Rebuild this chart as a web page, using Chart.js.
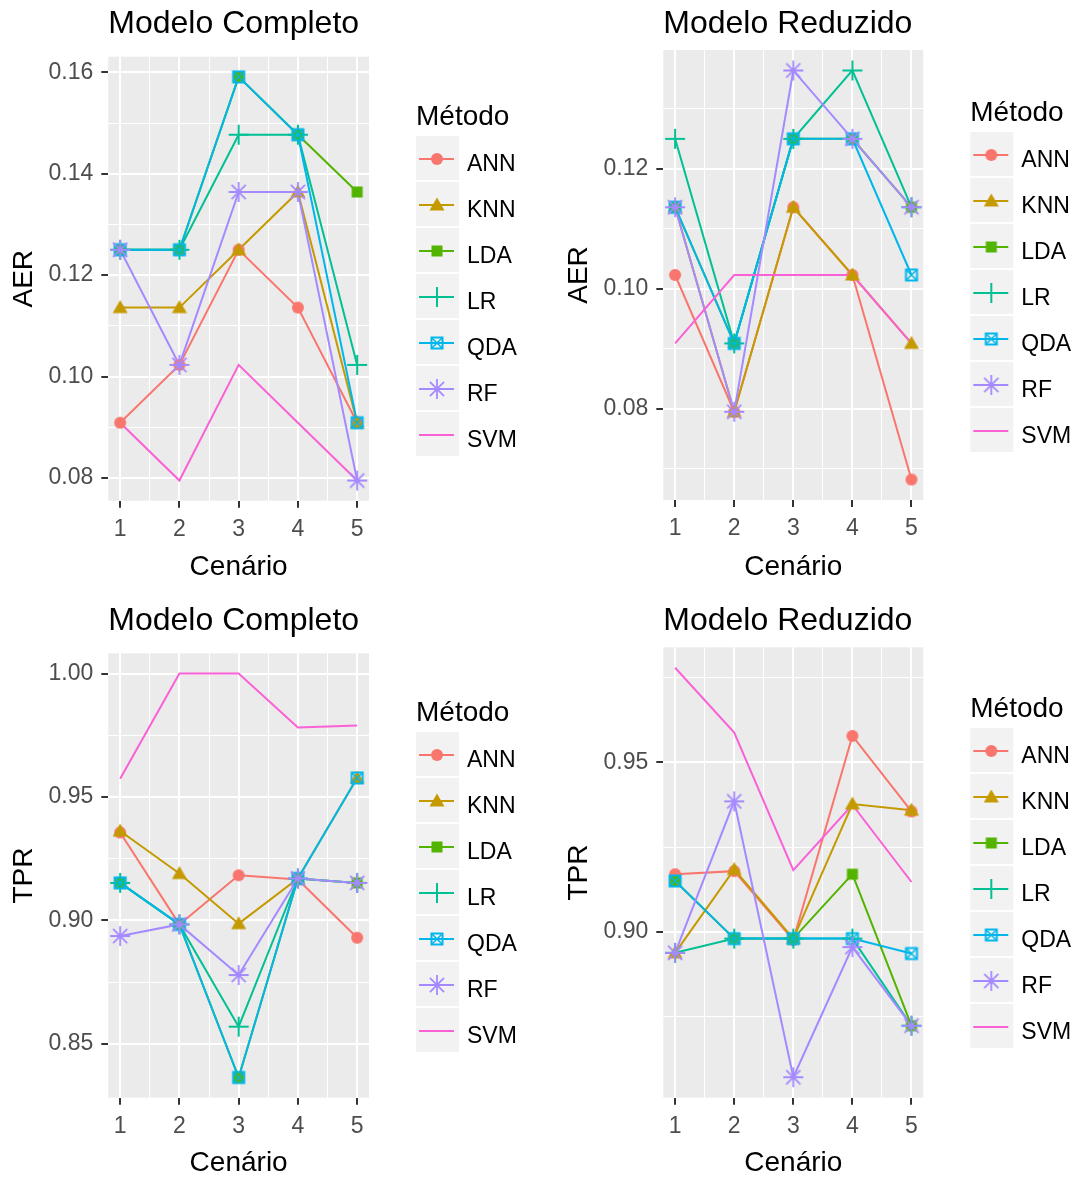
<!DOCTYPE html>
<html>
<head>
<meta charset="utf-8">
<script src="https://cdn.jsdelivr.net/npm/chart.js@4.4.1/dist/chart.umd.min.js"></script>
<style>
html, body { margin: 0; padding: 0; background: #ffffff; }
#wrap { position: relative; width: 1082px; height: 1177px; overflow: hidden; background: #ffffff; }
.cell { position: absolute; width: 541px; height: 590px; }
.cell canvas { display: block; }
</style>
</head>
<body>
<div id="wrap">
  <div class="cell" style="left:0px;top:0px"><canvas id="c1" width="541" height="590"></canvas></div>
  <div class="cell" style="left:541px;top:0px"><canvas id="c2" width="541" height="590"></canvas></div>
  <div class="cell" style="left:0px;top:590px"><canvas id="c3" width="541" height="590"></canvas></div>
  <div class="cell" style="left:541px;top:590px"><canvas id="c4" width="541" height="590"></canvas></div>
</div>
<script>
// ---------------- DATA ----------------
const scenarios = [1, 2, 3, 4, 5];
const methods = ['ANN', 'KNN', 'LDA', 'LR', 'QDA', 'RF', 'SVM'];
const methodColors = ['#F8766D', '#C49A00', '#53B400', '#00C094', '#00B6EB', '#A58AFF', '#FB61D7'];
const methodShapes = ['circle', 'triangle', 'square', 'plus', 'sqcross', 'asterisk', null];
const legendTitle = 'Método';
const xTitle = 'Cenário';

// rows follow `methods`, columns follow `scenarios`
const aerCompleto = [
  [0.0909, 0.1023, 0.1250, 0.1136, 0.0909], // ANN
  [0.1136, 0.1136, 0.1250, 0.1364, 0.0909], // KNN
  [0.1250, 0.1250, 0.1591, 0.1477, 0.1364], // LDA
  [0.1250, 0.1250, 0.1477, 0.1477, 0.1023], // LR
  [0.1250, 0.1250, 0.1591, 0.1477, 0.0909], // QDA
  [0.1250, 0.1023, 0.1364, 0.1364, 0.0795], // RF
  [0.0909, 0.0795, 0.1023, 0.0909, 0.0795]  // SVM
];
const aerReduzido = [
  [0.1023, 0.0795, 0.1136, 0.1023, 0.0682],
  [0.1136, 0.0795, 0.1136, 0.1023, 0.0909],
  [0.1136, 0.0909, 0.1250, 0.1250, 0.1136],
  [0.1250, 0.0909, 0.1250, 0.1364, 0.1136],
  [0.1136, 0.0909, 0.1250, 0.1250, 0.1023],
  [0.1136, 0.0795, 0.1364, 0.1250, 0.1136],
  [0.0909, 0.1023, 0.1023, 0.1023, 0.0909]
];
const tprCompleto = [
  [0.9356, 0.8984, 0.9183, 0.9166, 0.8930],
  [0.9362, 0.9190, 0.8987, 0.9170, 0.9577],
  [0.9152, 0.8984, 0.8364, 0.9170, 0.9152],
  [0.9152, 0.8984, 0.8570, 0.9170, 0.9152],
  [0.9152, 0.8984, 0.8364, 0.9170, 0.9577],
  [0.8937, 0.8984, 0.8779, 0.9170, 0.9152],
  [0.9574, 1.0000, 1.0000, 0.9781, 0.9789]
];
const tprReduzido = [
  [0.9170, 0.9179, 0.8976, 0.9578, 0.9355],
  [0.8938, 0.9184, 0.8980, 0.9377, 0.9359],
  [0.9150, 0.8980, 0.8980, 0.9170, 0.8723],
  [0.8938, 0.8980, 0.8980, 0.8980, 0.8723],
  [0.9150, 0.8980, 0.8980, 0.8980, 0.8936],
  [0.8938, 0.9385, 0.8571, 0.8955, 0.8723],
  [0.9779, 0.9588, 0.9182, 0.9375, 0.9147]
];

const aerCompletoTicks = [0.08, 0.10, 0.12, 0.14, 0.16];
const aerReduzidoTicks = [0.08, 0.10, 0.12];
const tprCompletoTicks = [0.85, 0.90, 0.95, 1.00];
const tprReduzidoTicks = [0.90, 0.95];

// ---------------- STYLE / HELPERS ----------------
const FONT = '"Liberation Sans", Arial, Helvetica, sans-serif';
Chart.defaults.font.family = FONT;

function makeMarker(kind, color) {
  if (!kind) return null;
  const c = document.createElement('canvas');
  c.width = 24; c.height = 24;
  const g = c.getContext('2d');
  g.translate(12, 12);
  g.fillStyle = color; g.strokeStyle = color; g.lineWidth = 2;
  if (kind === 'circle') { g.beginPath(); g.arc(0, 0, 6, 0, Math.PI * 2); g.fill(); }
  else if (kind === 'triangle') { g.beginPath(); g.moveTo(0, -7.5); g.lineTo(7.5, 5.5); g.lineTo(-7.5, 5.5); g.closePath(); g.fill(); }
  else if (kind === 'square') { g.fillRect(-5.5, -5.5, 11, 11); }
  else if (kind === 'plus') { g.beginPath(); g.moveTo(-10, 0); g.lineTo(10, 0); g.moveTo(0, -10); g.lineTo(0, 10); g.stroke(); }
  else if (kind === 'sqcross') {
    g.strokeRect(-5.5, -5.5, 11, 11);
    g.lineWidth = 1.5; g.beginPath();
    g.moveTo(-5.5, -5.5); g.lineTo(5.5, 5.5); g.moveTo(5.5, -5.5); g.lineTo(-5.5, 5.5); g.stroke();
  } else if (kind === 'asterisk') {
    g.lineWidth = 1.8; g.beginPath();
    for (let k = 0; k < 4; k++) {
      const a = k * Math.PI / 4;
      g.moveTo(-10 * Math.cos(a), -10 * Math.sin(a)); g.lineTo(10 * Math.cos(a), 10 * Math.sin(a));
    }
    g.stroke();
  }
  return c;
}
const markers = methodShapes.map((s, i) => makeMarker(s, methodColors[i]));

const near = (v, arr) => arr.some(a => Math.abs(a - v) < 1e-6);

const panelBg = {
  id: 'panelBg',
  beforeDraw(chart) {
    const { ctx, chartArea: a } = chart;
    ctx.save(); ctx.fillStyle = '#EBEBEB';
    ctx.fillRect(a.left, a.top, a.right - a.left, a.bottom - a.top);
    ctx.restore();
  }
};
const panelTitle = {
  id: 'panelTitle',
  afterDraw(chart, args, opts) {
    const ctx = chart.ctx;
    ctx.save();
    ctx.font = '32px ' + FONT; ctx.fillStyle = '#000000';
    ctx.textAlign = 'left'; ctx.textBaseline = 'alphabetic';
    ctx.fillText(opts.text, chart.chartArea.left, opts.baseline);
    ctx.restore();
  }
};
const ggLegend = {
  id: 'ggLegend',
  afterDraw(chart, args, opts) {
    const ctx = chart.ctx;
    const lx = chart.chartArea.right + 47;
    const ty = opts.top;
    ctx.save();
    ctx.textAlign = 'left'; ctx.textBaseline = 'alphabetic';
    ctx.font = '28px ' + FONT; ctx.fillStyle = '#000000';
    ctx.fillText(legendTitle, lx, ty);
    methods.forEach((m, k) => {
      const by = ty + 11 + 46 * k;
      ctx.fillStyle = '#F2F2F2'; ctx.fillRect(lx, by, 43, 44);
      const cy = by + 23;
      ctx.strokeStyle = methodColors[k]; ctx.lineWidth = 2;
      ctx.beginPath(); ctx.moveTo(lx + 3, cy); ctx.lineTo(lx + 38, cy); ctx.stroke();
      if (markers[k]) ctx.drawImage(markers[k], lx + 21 - 12, cy - 12);
      ctx.fillStyle = '#000000'; ctx.font = '23px ' + FONT;
      ctx.fillText(m, lx + 51, by + 35);
    });
    ctx.restore();
  }
};

function makePanel(id, p) {
  const all = p.values.flat();
  const lo = Math.min(...all), hi = Math.max(...all);
  const ex = (hi - lo) * 0.05;
  const ymin = lo - ex, ymax = hi + ex;
  const step = p.majors[1] - p.majors[0];
  const yMinors = [];
  for (let v = p.majors[0] - step / 2; v <= p.majors[p.majors.length - 1] + step / 2 + 1e-9; v += step) {
    if (v >= ymin && v <= ymax) yMinors.push(+v.toFixed(4));
  }
  const yAll = p.majors.concat(yMinors).sort((a, b) => a - b);
  const xMinors = scenarios.slice(0, -1).map(s => s + 0.5);
  const xAll = scenarios.concat(xMinors).sort((a, b) => a - b);
  const xex = (scenarios[scenarios.length - 1] - scenarios[0]) * 0.05;

  const datasets = [];
  methods.forEach((m, i) => {
    const pts = scenarios.map((s, j) => ({ x: s, y: p.values[i][j] }));
    datasets.push({
      label: m, data: pts, borderColor: methodColors[i], backgroundColor: methodColors[i],
      borderWidth: 2, pointRadius: 0, fill: false, tension: 0, order: 100 - i
    });
    if (markers[i]) {
      datasets.push({
        label: m + ' pts', data: pts, showLine: false, pointStyle: markers[i],
        pointRadius: 6, borderColor: methodColors[i], backgroundColor: methodColors[i], order: 50 - i
      });
    }
  });

  const gridOpts = (majors) => ({
    display: true, drawOnChartArea: true, drawTicks: true, tickLength: 7,
    color: '#FFFFFF',
    lineWidth: ctx => (ctx.tick && near(ctx.tick.value, majors)) ? 2 : 1,
    tickColor: ctx => (ctx.tick && near(ctx.tick.value, majors)) ? '#333333' : 'rgba(0,0,0,0)',
    tickWidth: 2
  });

  return new Chart(document.getElementById(id), {
    type: 'line',
    data: { datasets },
    plugins: [panelBg, panelTitle, ggLegend],
    options: {
      responsive: false, animation: false, events: [],
      layout: { padding: { left: p.padL, top: p.padT, right: p.padR, bottom: 0 } },
      plugins: {
        legend: { display: false }, tooltip: { enabled: false }, title: { display: false },
        panelTitle: { text: p.title, baseline: p.titleBase },
        ggLegend: { top: p.legTop }
      },
      scales: {
        x: {
          type: 'linear', min: scenarios[0] - xex, max: scenarios[scenarios.length - 1] + xex, bounds: 'data',
          border: { display: false },
          grid: gridOpts(scenarios),
          afterBuildTicks: s => { s.ticks = xAll.map(v => ({ value: v })); },
          afterFit: s => { s.height = p.xh; },
          ticks: {
            autoSkip: false, maxRotation: 0, padding: 8, color: '#4D4D4D', font: { size: 23 },
            callback: v => near(v, scenarios) ? String(v) : ''
          },
          title: { display: true, text: xTitle, color: '#000000', font: { size: 28, lineHeight: 1.0 }, padding: { top: 0, bottom: p.xtPad } }
        },
        y: {
          type: 'linear', min: ymin, max: ymax, bounds: 'data',
          border: { display: false },
          grid: gridOpts(p.majors),
          afterBuildTicks: s => { s.ticks = yAll.map(v => ({ value: v })); },
          afterFit: s => { s.width = 108.3; },
          ticks: {
            autoSkip: false, padding: 8, color: '#4D4D4D', font: { size: 23 },
            callback: v => near(v, p.majors) ? Number(v).toFixed(2) : ''
          },
          title: { display: true, text: p.yTitle, color: '#000000', font: { size: 28, lineHeight: 1.0 }, padding: { top: 10, bottom: 0 } }
        }
      }
    }
  });
}

makePanel('c1', { title: 'Modelo Completo', yTitle: 'AER', values: aerCompleto, majors: aerCompletoTicks,
  padL: 0, padT: 56.7, padR: 172, xh: 89.3, xtPad: 9, titleBase: 33.3, legTop: 125 });
makePanel('c2', { title: 'Modelo Reduzido', yTitle: 'AER', values: aerReduzido, majors: aerReduzidoTicks,
  padL: 14, padT: 50, padR: 158.7, xh: 90, xtPad: 9, titleBase: 33.3, legTop: 121 });
makePanel('c3', { title: 'Modelo Completo', yTitle: 'TPR', values: tprCompleto, majors: tprCompletoTicks,
  padL: 0, padT: 63.3, padR: 172, xh: 82.3, xtPad: 3, titleBase: 40, legTop: 131 });
makePanel('c4', { title: 'Modelo Reduzido', yTitle: 'TPR', values: tprReduzido, majors: tprReduzidoTicks,
  padL: 14, padT: 57.3, padR: 158.7, xh: 82.3, xtPad: 3, titleBase: 40, legTop: 127 });
</script>
</body>
</html>
